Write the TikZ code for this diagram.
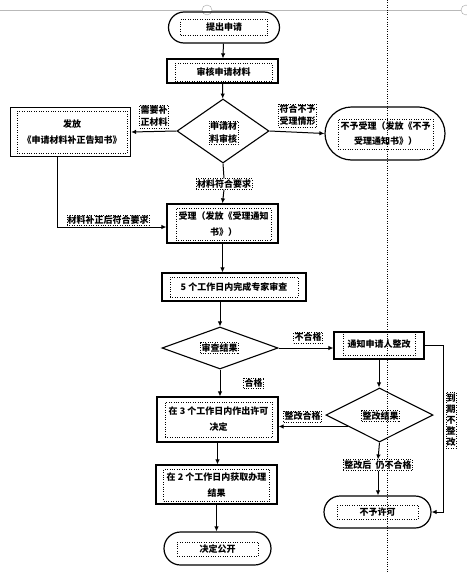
\documentclass[tikz,border=0pt]{standalone}
\usepackage{fontspec}
\newfontfamily\cjkfont{Noto Sans CJK SC}
\usetikzlibrary{shapes.geometric, shapes.misc, arrows.meta, positioning, calc}

\begin{document}
\begin{tikzpicture}[x=1pt, y=-1pt,
  term/.style={draw, rounded rectangle, line width=1.2pt, inner sep=0pt},
  proc/.style={draw, rectangle, line width=1.2pt, inner sep=0pt},
  judge/.style={draw, diamond, line width=1.1pt, inner sep=0pt},
  tbox/.style={draw, dotted, align=center, inner sep=1pt, font=\cjkfont\bfseries\fontsize{9}{16}\selectfont},
  tight/.style={font=\cjkfont\bfseries\fontsize{9}{#1}\selectfont},
  arrow/.style={-{Latex[length=5pt, width=4.5pt]}, line width=1pt},
  link/.style={line width=1pt},
]
  \useasboundingbox (0,0) rectangle (466,573);

  % Page guides
  \draw[gray!55, line width=0.8pt] (0,10) -- (466,10);
  \draw[gray!70, fill=white] (207,10) circle[radius=5];
  \draw[gray!70, fill=white] (466,10) circle[radius=5];
  \draw[dotted] (387,0) -- (387,573);

  % Nodes
  \node[term, minimum width=111pt, minimum height=31pt] (apply) at (224,27.5) {};
  \node[tbox, minimum width=87pt, minimum height=16pt] (applytxt) at (apply) {提出申请};

  \node[proc, minimum width=111pt, minimum height=24pt] (check) at (222.5,71) {};
  \node[tbox, minimum width=97pt, minimum height=18pt] (checktxt) at (223.5,72) {审核申请材料};

  \node[judge, minimum width=92pt, minimum height=64pt] (audit) at (223,131) {};
  \node[tbox, tight=13] (audittxt) at (223.5,132.5) {申请材\\料审核};

  \node[proc, minimum width=120pt, minimum height=49pt] (issue) at (70.5,132) {};
  \node[tbox, minimum width=110pt, minimum height=42pt] (issuetxt) at (72,132) {发放\\《申请材料补正告知书》};

  \node[term, minimum width=120pt, minimum height=53pt] (reject) at (385,133.5) {};
  \node[tbox, minimum width=95pt, minimum height=30pt, tight=15] (rejecttxt) at (385.5,134) {不予受理（发放《不予\\受理通知书》）};

  \node[tbox] (ok) at (224,184) {材料符合要求};

  \node[proc, minimum width=111pt, minimum height=39pt] (accept) at (222.5,223.5) {};
  \node[tbox, minimum width=95pt, minimum height=32pt] (accepttxt) at (223.5,224) {受理（发放《受理通知\\书》）};

  \node[proc, minimum width=144pt, minimum height=28pt] (review) at (234,287) {};
  \node[tbox, minimum width=128pt, minimum height=20pt] (reviewtxt) at (234,287) {5 个工作日内完成专家审查};

  \node[judge, minimum width=116pt, minimum height=42pt] (result) at (220,348) {};
  \node[tbox] (resulttxt) at (219.5,348) {审查结果};

  \node[proc, minimum width=90pt, minimum height=27pt] (notify) at (379,345.5) {};
  \node[tbox, minimum width=72pt, minimum height=23pt] (notifytxt) at (379,344) {通知申请人整改};

  \node[proc, minimum width=121pt, minimum height=45pt] (permit) at (217.5,419.5) {};
  \node[tbox, minimum width=107pt, minimum height=35pt] (permittxt) at (218.5,419.5) {在 3 个工作日内作出许可\\决定};

  \node[judge, minimum width=107pt, minimum height=54pt] (rectify) at (379.5,415) {};
  \node[tbox] (rectifytxt) at (380.5,416) {整改结果};

  \node[term, minimum width=107pt, minimum height=32pt] (deny) at (377.5,512) {};
  \node[tbox, minimum width=81pt, minimum height=14pt] (denytxt) at (377.5,512) {不予许可};

  \node[proc, minimum width=121pt, minimum height=39pt] (fetch) at (216.5,484.5) {};
  \node[tbox, minimum width=106pt, minimum height=32pt] (fetchtxt) at (216.5,485) {在 2 个工作日内获取办理\\结果};

  \node[term, minimum width=107pt, minimum height=33pt] (public) at (217.5,548.5) {};
  \node[tbox, minimum width=81pt, minimum height=14pt] (publictxt) at (217.5,549) {决定公开};

  % Arrows
  \draw[arrow] (apply) -- (check);
  \draw[arrow] (check) -- (audit);
  \draw[arrow] (audit.west) -- (issue.east);
  \draw[arrow] (audit.east) -- (reject.west);
  \draw[link] (audit.south) -- (ok.north);
  \draw[arrow] (ok.south) -- (accept.north);
  \draw[arrow] ([xshift=-13.5pt]issue.south) |- ([yshift=-3.5pt]accept.west);
  \draw[arrow] (accept) -- (accept |- review.north);
  \draw[arrow] (result.north |- review.south) -- (result.north);
  \draw[arrow] (result.east) -- (result.east -| notify.west);
  \draw[arrow] (result.south) -- (result.south |- permit.north);
  \draw[arrow] (notify.south) -- (notify.south |- rectify.north);
  \draw[arrow] (rectify.200) -- (rectify.200 -| permit.east);
  \node[tbox, tight=12] (failtxt) at (378,465) {整改后\ \ 仍不合格};
  \draw[arrow] (rectify.south) -- (failtxt.north);
  \draw[arrow] (failtxt.south) -- (failtxt.south |- deny.north);
  \draw[arrow] (notify.east) -- ++(19,0) |- (deny.east);
  \draw[arrow] (permit) -- (permit |- fetch.north);
  \draw[arrow] (fetch.south) -- (fetch.south |- public.north);

  % Labels
  \node[tbox, tight=12] (needtxt) at (154,116.5) {需要补\\正材料};
  \node[tbox, tight=12] (refusetxt) at (297.5,115.5) {符合不予\\受理情形};
  \node[tbox, inner sep=0.5pt] (fixedtxt) at (108,220) {材料补正后符合要求};
  \node[tbox] (failedtxt) at (308,337.5) {不合格};
  \node[tbox] (passtxt) at (253.5,383) {合格};
  \node[tbox] (fixpasstxt) at (302.5,416.5) {整改合格};
  \node[tbox, tight=11, inner sep=0.5pt, minimum height=56pt] (overduetxt) at (451,420) {到\\期\\不\\整\\改};
\end{tikzpicture}
\end{document}
